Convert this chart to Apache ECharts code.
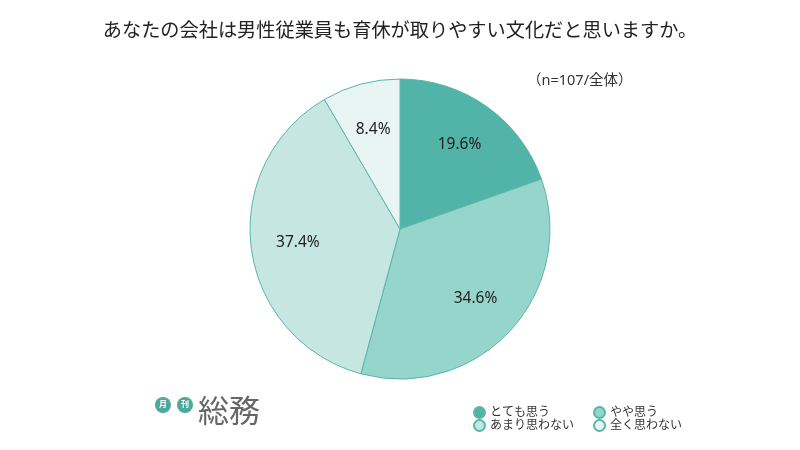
<!DOCTYPE html>
<html><head><meta charset="utf-8">
<script src="https://cdn.jsdelivr.net/npm/echarts@6/dist/echarts.min.js"></script>
<style>html,body{margin:0;padding:0;background:#fff}#c{width:800px;height:450px}</style>
</head><body><div id="c"></div>
<script>
const titleText = 'あなたの会社は男性従業員も育休が取りやすい文化だと思いますか。';
const noteText = '（n=107/全体）';
const categories = ['とても思う', 'やや思う', 'あまり思わない', '全く思わない'];
const values = [19.6, 34.6, 37.4, 8.4];
const colors = ['#52b3a8', '#96d5cb', '#c6e7e1', '#e8f5f3'];
const FONT = '"Noto Sans", "Noto Sans CJK JP", sans-serif';

const data = categories.map((c, i) => ({ name: c, value: values[i], itemStyle: { color: colors[i] } }));

const chart = echarts.init(document.getElementById('c'));
chart.setOption({
  backgroundColor: '#fff',
  animation: false,
  title: {
    text: titleText, left: 'center', top: 17,
    textStyle: { fontFamily: FONT, fontSize: 19.2, fontWeight: 'normal', color: '#222' }
  },
  legend: [
    { data: [categories[0], categories[2]], orient: 'vertical', left: 468, top: 401, itemWidth: 11, itemHeight: 11, itemGap: 0, icon: 'circle',
      textStyle: { fontFamily: FONT, fontSize: 12, color: '#333' } },
    { data: [categories[1], categories[3]], orient: 'vertical', left: 588, top: 401, itemWidth: 11, itemHeight: 11, itemGap: 0, icon: 'circle',
      textStyle: { fontFamily: FONT, fontSize: 12, color: '#333' } }
  ],
  graphic: [
    { type: 'text', left: 527, top: 74, style: { text: noteText, font: '14.5px ' + FONT, fill: '#333' } },
    { type: 'circle', shape: { cx: 163, cy: 405, r: 8 }, style: { fill: '#4fa89c' } },
    { type: 'circle', shape: { cx: 185, cy: 405, r: 8 }, style: { fill: '#4fa89c' } },
    { type: 'text', x: 163, y: 405, style: { text: '月', font: 'bold 8px ' + FONT, fill: '#fff', align: 'center', verticalAlign: 'middle' } },
    { type: 'text', x: 185, y: 405, style: { text: '刊', font: 'bold 8px ' + FONT, fill: '#fff', align: 'center', verticalAlign: 'middle' } },
    { type: 'text', x: 198, y: 413, style: { text: '総務', font: '31px ' + FONT, fill: '#666', verticalAlign: 'middle' } }
  ],
  series: [
    {
      type: 'pie', center: [400, 229], radius: [0, 150], startAngle: 90, clockwise: true,
      data: data, label: { show: false }, labelLine: { show: false },
      itemStyle: { borderColor: '#5ab5aa', borderWidth: 1 }, silent: true
    },
    {
      type: 'pie', center: [400, 229], radius: [50, 150], startAngle: 90, clockwise: true,
      data: categories.map((c, i) => ({ name: c, value: values[i], itemStyle: { color: 'rgba(0,0,0,0)' } })),
      legendHoverLink: false, silent: true,
      label: { show: true, position: 'inside', formatter: p => p.value.toFixed(1) + '%', fontFamily: FONT, fontSize: 15.5, color: '#222' },
      labelLine: { show: false }, itemStyle: { borderWidth: 0 }
    }
  ]
});
</script></body></html>
